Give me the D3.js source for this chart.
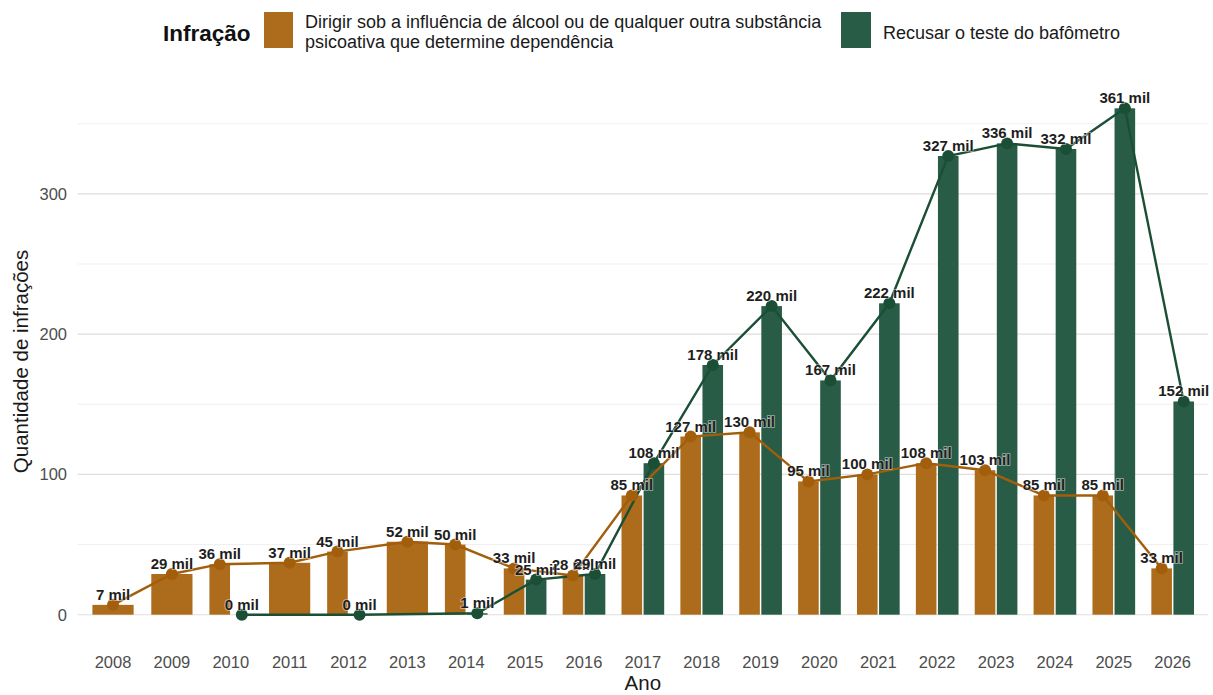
<!DOCTYPE html>
<html><head><meta charset="utf-8">
<script src="https://cdn.jsdelivr.net/npm/d3@7"></script>
<style>
html,body{margin:0;padding:0;background:#fff;}
text{font-family:"Liberation Sans",Arial,sans-serif;}
</style></head>
<body><svg id="chart" width="1213" height="695"></svg>
<script>
const years = [2008,2009,2010,2011,2012,2013,2014,2015,2016,2017,2018,2019,2020,2021,2022,2023,2024,2025,2026];
const alcoholValues = [7,29,36,37,45,52,50,33,28,85,127,130,95,100,108,103,85,85,33];
const refusalValues = [null,null,0,null,0,null,1,25,29,108,178,220,167,222,327,336,332,361,152];
const seriesNames = ["Dirigir sob a influência de álcool ou de qualquer outra substância\npsicoativa que determine dependência","Recusar o teste do bafômetro"];
const yTicks = [0,100,200,300];
const yMinor = [50,150,250,350];

const barColors = ["#AD6C1C","#285C46"];
const markColors = ["#A35E0C","#1B4F35"];

(function(){
const svg = d3.select("#chart");
const pLeft = 77.7, pRight = 1208, pTop = 83, pBottom = 640;

const x = d3.scalePoint().domain(years).range([pLeft,pRight]).padding(0.6);
const step = x.step();
const y = d3.scaleLinear().domain([-18.05,379.05]).range([pBottom,pTop]);

svg.append("g").selectAll("line").data(yMinor).join("line")
  .attr("x1",pLeft).attr("x2",pRight).attr("y1",d=>y(d)).attr("y2",d=>y(d))
  .attr("stroke","#EBEBEB").attr("stroke-width",0.8);
svg.append("g").selectAll("line").data(yTicks).join("line")
  .attr("x1",pLeft).attr("x2",pRight).attr("y1",d=>y(d)).attr("y2",d=>y(d))
  .attr("stroke","#DEDEDE").attr("stroke-width",1.1);

const series = [alcoholValues, refusalValues];
const records = [[],[]];
years.forEach((yr,i)=>{
  const both = series[0][i]!==null && series[1][i]!==null;
  series.forEach((s,k)=>{
    if(s[i]===null) return;
    const off = both ? (k===0?-1:1)*0.1875*step : 0;
    const w = both ? 0.35*step : 0.7*step;
    records[k].push({year:yr, value:s[i], cx:x(yr)+off, w:w});
  });
});

records.forEach((recs,k)=>{
  svg.append("g").selectAll("rect").data(recs).join("rect")
    .attr("x",d=>d.cx-d.w/2).attr("width",d=>d.w)
    .attr("y",d=>y(d.value)).attr("height",d=>y(0)-y(d.value))
    .attr("fill",barColors[k]);
});
records.forEach((recs,k)=>{
  svg.append("path").datum(recs)
    .attr("d",d3.line().x(d=>d.cx).y(d=>y(d.value)))
    .attr("fill","none").attr("stroke",markColors[k]).attr("stroke-width",2.4);
});
records.forEach((recs,k)=>{
  svg.append("g").selectAll("circle").data(recs).join("circle")
    .attr("cx",d=>d.cx).attr("cy",d=>y(d.value)).attr("r",6)
    .attr("fill",markColors[k]);
});
records.forEach((recs,k)=>{
  svg.append("g").selectAll("text").data(recs).join("text")
    .attr("x",d=>d.cx).attr("y",d=>y(d.value)-5)
    .attr("text-anchor","middle").attr("font-size",15).attr("font-weight","bold")
    .attr("fill","#1E1E1E").attr("stroke","#fff").attr("stroke-width",1.6)
    .attr("stroke-opacity",0.55).attr("paint-order","stroke")
    .text(d=>d.value+" mil");
});

svg.append("g").selectAll("text").data(years).join("text")
  .attr("x",d=>x(d)).attr("y",668).attr("text-anchor","middle")
  .attr("font-size",16.5).attr("fill","#4D4D4D").text(d=>d);
svg.append("g").selectAll("text").data(yTicks).join("text")
  .attr("x",67).attr("y",d=>y(d)+6).attr("text-anchor","end")
  .attr("font-size",16.5).attr("fill","#4D4D4D").text(d=>d);

svg.append("text").attr("x",(pLeft+pRight)/2).attr("y",690).attr("text-anchor","middle")
  .attr("font-size",20.5).attr("fill","#1a1a1a").text("Ano");
svg.append("text").attr("transform","translate(28,"+((pTop+pBottom)/2)+") rotate(-90)")
  .attr("text-anchor","middle").attr("font-size",20.5).attr("fill","#1a1a1a")
  .text("Quantidade de infrações");

const lg = svg.append("g");
lg.append("text").attr("x",163).attr("y",41).attr("font-size",22.5).attr("font-weight","bold")
  .attr("fill","#111").text("Infração");
lg.append("rect").attr("x",264).attr("y",12).attr("width",29).attr("height",36).attr("fill",barColors[0]);
const t1 = lg.append("text").attr("x",305).attr("font-size",18).attr("fill","#1a1a1a");
seriesNames[0].split("\n").forEach((ln,i)=>{
  t1.append("tspan").attr("x",305).attr("y",28+i*20).text(ln);
});
lg.append("rect").attr("x",841).attr("y",12).attr("width",30).attr("height",36).attr("fill",barColors[1]);
lg.append("text").attr("x",883).attr("y",39).attr("font-size",18).attr("fill","#1a1a1a").text(seriesNames[1]);
})();
</script></body></html>
